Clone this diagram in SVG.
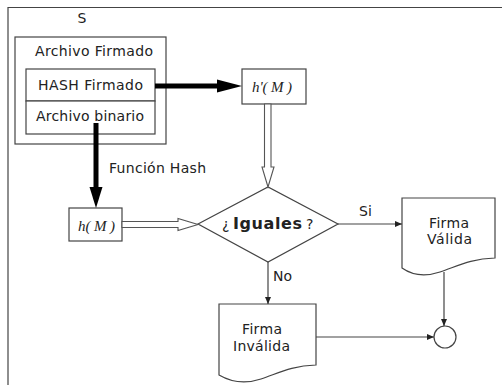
<svg xmlns="http://www.w3.org/2000/svg" width="502" height="385" viewBox="0 0 502 385">
<style>
.t{font-family:"DejaVu Sans",Verdana,sans-serif;font-size:14px;fill:#222}
.m{font-family:"Liberation Serif","Times New Roman",serif;font-size:15px;font-style:italic;fill:#222}
.b{fill:#fff;stroke:#444;stroke-width:1.2}
.c{fill:none;stroke:#444;stroke-width:1.2}
.h{fill:#fff;stroke:#555;stroke-width:1.1}
</style>
<defs>
<marker id="a" markerWidth="8" markerHeight="8" refX="7" refY="4" orient="auto" markerUnits="userSpaceOnUse">
<path d="M0,1 L7,4 L0,7 Z" fill="#222"/>
</marker>
</defs>
<rect width="502" height="385" fill="#fff"/>
<g id="frame">
<path class="c" d="M8,385 V7.5 H502"/>
</g>
<g id="S">
<text class="t" x="82" y="23" text-anchor="middle">S</text>
<rect class="b" x="15" y="37" width="151" height="107"/>
<text class="t" x="35" y="56" textLength="118" lengthAdjust="spacing">Archivo Firmado</text>
</g>
<g id="hashFirmado">
<rect class="b" x="26" y="69" width="129" height="32"/>
<text class="t" x="38" y="90" textLength="105" lengthAdjust="spacing">HASH Firmado</text>
</g>
<g id="archivoBinario">
<rect class="b" x="26" y="101" width="129" height="33"/>
<text class="t" x="36" y="121" textLength="108" lengthAdjust="spacing">Archivo binario</text>
</g>
<g id="hPrime">
<rect class="b" x="242" y="69" width="64" height="35"/>
<text class="m" x="252" y="92" textLength="40" lengthAdjust="spacing">h'( M )</text>
</g>
<g id="h">
<rect class="b" x="69" y="208" width="53" height="33"/>
<text class="m" x="78" y="231" textLength="37" lengthAdjust="spacing">h( M )</text>
</g>
<g id="iguales">
<polygon class="b" points="198,224 268,187 338,224 268,262"/>
<text class="t" y="229" font-size="15"><tspan x="222">¿</tspan><tspan x="233" font-weight="bold" font-size="16" textLength="69" lengthAdjust="spacing">Iguales</tspan><tspan x="306">?</tspan></text>
</g>
<g id="valida">
<path class="b" d="M402,198 H495 V258 C470,259 458,266 440,272 C425,277 412,275 402,268 Z"/>
<text class="t" x="429" y="228" textLength="40" lengthAdjust="spacing">Firma</text>
<text class="t" x="427" y="244" textLength="45" lengthAdjust="spacing">Válida</text>
</g>
<g id="invalida">
<path class="b" d="M219,304 H316 V365 C291,366 279,373 261,379 C246,384 231,382 219,375 Z"/>
<text class="t" x="242" y="334" textLength="40" lengthAdjust="spacing">Firma</text>
<text class="t" x="233" y="351" textLength="57" lengthAdjust="spacing">Inválida</text>
</g>
<g id="end">
<circle class="b" cx="445" cy="337" r="11"/>
</g>
<g id="connectors">
<line x1="155" y1="86" x2="218" y2="86" stroke="#000" stroke-width="5"/>
<polygon points="217,79.5 242,86 217,92.5" fill="#000"/>
<line x1="96" y1="123" x2="96" y2="188" stroke="#000" stroke-width="5"/>
<polygon points="89.5,187 102.5,187 96,208" fill="#000"/>
<text class="t" x="109" y="173" textLength="97" lengthAdjust="spacing">Función Hash</text>
<polygon class="h" points="264.5,104 271,104 271,167 274,167 268,187 262,167 264.5,167"/>
<polygon class="h" points="122,221.5 178,221.5 178,218.5 198,224.5 178,230.5 178,227.5 122,227.5"/>
<line class="c" x1="338" y1="224" x2="402" y2="224" marker-end="url(#a)"/>
<text class="t" x="359" y="216" textLength="13" lengthAdjust="spacing">Si</text>
<line class="c" x1="268" y1="262" x2="268" y2="304" marker-end="url(#a)"/>
<text class="t" x="273" y="281" textLength="19" lengthAdjust="spacing">No</text>
<line class="c" x1="444" y1="272" x2="444" y2="326" marker-end="url(#a)"/>
<line class="c" x1="316" y1="337" x2="434" y2="337" marker-end="url(#a)"/>
</g>
</svg>
